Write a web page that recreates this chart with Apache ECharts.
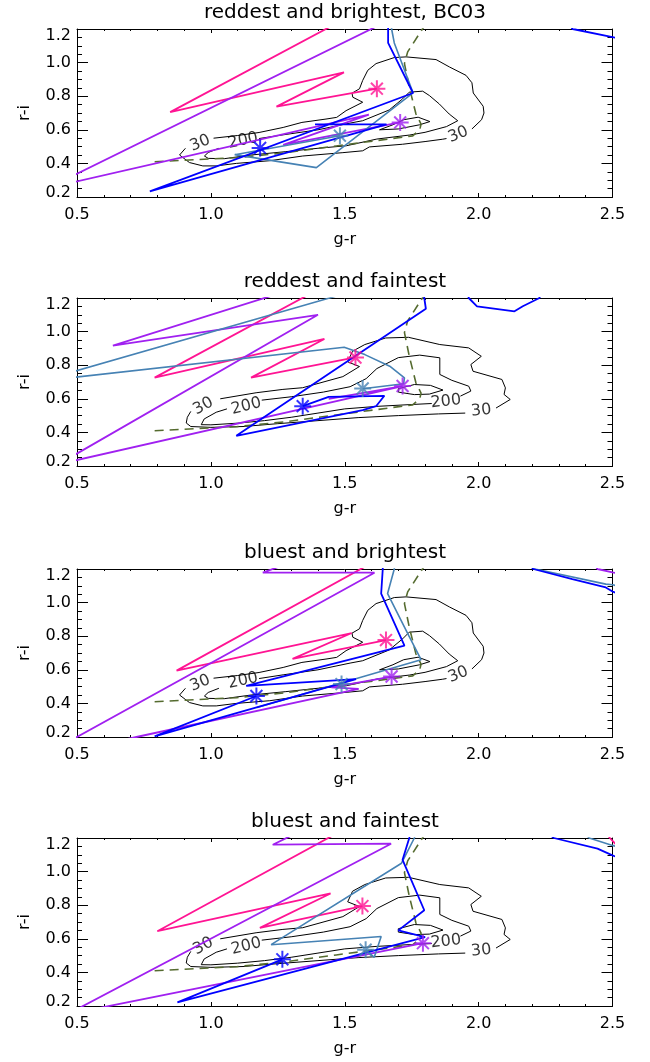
<!DOCTYPE html>
<html>
<head>
<meta charset="utf-8">
<script src="https://cdn.jsdelivr.net/npm/echarts@6/dist/echarts.min.js"></script>
<style>
  html, body { margin: 0; padding: 0; background: #fff; }
  #chart { width: 650px; height: 1062px; }
</style>
</head>
<body>
<div id="chart"></div>
<script>
// panel titles
const panelTitles = ['reddest and brightest, BC03', 'reddest and faintest', 'bluest and brightest', 'bluest and faintest'];

// dashed model locus (same in every panel)
const modelTrack = [[0.79,0.41],[1.095,0.434],[1.281,0.464],[1.468,0.504],[1.754,0.564],[1.78,0.60],[1.785,0.634],
    [1.766,0.694],[1.741,0.854],[1.723,0.994],[1.735,1.064],[1.79,1.2],[1.82,1.26]];

// density contours, bright sample (panels 1 and 3)
const brightC30 = [
    [[0.905,0.49],[0.883,0.45],[0.92,0.405],[0.97,0.385],[1.02,0.385],[1.095,0.40],[1.22,0.416],[1.343,0.444],[1.493,0.464],
     [1.567,0.475],[1.592,0.498],[1.716,0.514],[1.80,0.53],[1.866,0.544],[1.88,0.548]],
    [[1.975,0.605],[2.011,0.66],[2.02,0.70],[2.017,0.74],[1.98,0.819],[1.975,0.88],[1.953,0.924],[1.891,0.974],[1.841,1.018],
     [1.729,1.034],[1.685,1.03],[1.617,0.994],[1.586,0.954],[1.567,0.894],[1.555,0.844],[1.527,0.818],[1.53,0.794],[1.567,0.764],
     [1.505,0.714],[1.47,0.674],[1.43,0.664],[1.34,0.644],[1.27,0.614],[1.18,0.584],[1.10,0.566],[1.01,0.55]]
];
const brightC200 = [
    [[1.18,0.548],[1.27,0.57],[1.40,0.60],[1.52,0.64],[1.567,0.654],[1.666,0.718],[1.716,0.784],[1.741,0.824],[1.791,0.83],
     [1.816,0.804],[1.853,0.754],[1.89,0.694],[1.922,0.654],[1.88,0.619],[1.80,0.585],[1.743,0.569],[1.62,0.545],[1.506,0.505],
     [1.40,0.49],[1.28,0.47],[1.15,0.45],[1.05,0.428],[0.99,0.43],[0.976,0.444],[0.99,0.465],[1.03,0.49]]
];
const brightInner = [[[1.63,0.60],[1.68,0.63],[1.72,0.66],[1.774,0.675],[1.818,0.649],[1.78,0.63],[1.70,0.605],[1.63,0.60]]];
const brightLabels = [[0.96,0.52,'30'],[1.12,0.535,'200'],[1.924,0.571,'30']];

// density contours, faint sample (panels 2 and 4)
const faintC30 = [
    [[0.925,0.525],[0.912,0.49],[0.908,0.456],[0.925,0.435],[1.0,0.43],[1.12,0.435],[1.25,0.452],[1.40,0.47],[1.55,0.488],
     [1.70,0.50],[1.85,0.51],[1.95,0.515]],
    [[2.065,0.545],[2.118,0.596],[2.095,0.626],[2.10,0.665],[2.087,0.715],[1.979,0.764],[1.971,0.804],[2.01,0.853],[1.963,0.903],
     [1.855,0.923],[1.738,0.966],[1.653,0.962],[1.575,0.923],[1.529,0.883],[1.511,0.82],[1.555,0.792],[1.493,0.732],[1.343,0.666],
     [1.269,0.656],[1.169,0.636],[1.035,0.60]]
];
const faintC200 = [
    [[1.19,0.592],[1.30,0.612],[1.42,0.64],[1.52,0.672],[1.58,0.72],[1.62,0.78],[1.70,0.845],[1.78,0.86],[1.855,0.844],
     [1.855,0.745],[1.90,0.71],[1.963,0.675],[1.971,0.646],[1.932,0.616]],
    [[1.825,0.572],[1.75,0.566],[1.62,0.555],[1.50,0.54],[1.40,0.515],[1.30,0.49],[1.20,0.47],[1.10,0.455],[1.00,0.445],
     [0.964,0.446],[0.975,0.48],[1.02,0.52],[1.06,0.54]]
];
const faintInner = [[[1.70,0.66],[1.76,0.685],[1.82,0.68],[1.867,0.652],[1.816,0.628],[1.76,0.625],[1.70,0.64],[1.70,0.66]]];
const faintLabels = [[0.972,0.556,'30'],[1.132,0.556,'200'],[1.878,0.584,'200'],[2.01,0.53,'30']];

// model colour tracks, one per panel
const pinkTracks = [
    [[1.62,0.845],[1.245,0.738],[1.497,0.942],[0.848,0.705],[1.50,1.26]],
    [[1.54,0.846],[1.15,0.726],[1.424,0.956],[0.79,0.726],[1.40,1.25]],
    [[1.654,0.777],[1.305,0.665],[1.526,0.819],[0.872,0.595],[1.62,1.253]],
    [[1.566,0.795],[1.183,0.665],[1.447,0.87],[0.80,0.645],[1.49,1.245],[2.45,1.3],[2.49,1.2],[2.52,1.15]]
];
const purpleTracks = [
    [[1.707,0.644],[1.27,0.51],[1.59,0.69],[0.389,0.252],[1.65,1.24]],
    [[1.44,0.60],[1.716,0.676],[0.43,0.21],[1.40,1.10],[0.634,0.916],[1.30,1.25]],
    [[1.675,0.56],[1.45,0.495],[1.552,0.487],[0.722,0.2],[0.578,0.15],[0.443,0.15],[1.611,1.178],[1.194,1.178],
     [1.40,1.30],[2.40,1.30],[2.444,1.2],[2.5,1.18],[2.6,1.15]],
    [[1.792,0.574],[0.463,0.15],[1.673,1.166],[1.231,1.16],[1.36,1.26]]
];
const blueTracks = [
    [[1.389,0.632],[1.656,0.632],[0.772,0.233],[1.755,0.819],[1.662,1.117],[1.662,1.2],[1.66,1.3],[2.3,1.3],[2.351,1.2],
     [2.5,1.152],[2.6,1.12]],
    [[1.343,0.556],[1.44,0.612],[1.648,0.618],[1.617,0.556],[1.567,0.532],[1.095,0.38],[1.803,1.136],[1.797,1.2],[1.79,1.3],
     [1.95,1.3],[1.963,1.2],[1.994,1.15],[2.134,1.121],[2.165,1.151],[2.227,1.2],[2.25,1.3]],
    [[1.17,0.444],[0.79,0.204],[1.542,0.544],[1.132,0.504],[1.723,0.744],[1.636,1.054],[1.642,1.2],[1.64,1.3],[2.15,1.3],
     [2.204,1.2],[2.35,1.14],[2.475,1.09],[2.5,1.066],[2.6,1.0]],
    [[1.267,0.478],[0.875,0.222],[1.80,0.61],[1.70,0.65],[1.797,0.77],[1.716,1.07],[1.741,1.2],[1.75,1.3],[2.2,1.3],
     [2.281,1.2],[2.444,1.137],[2.5,1.097],[2.6,1.03]]
];
const steelTracks = [
    [[1.482,0.565],[1.089,0.452],[1.394,0.375],[1.755,0.82],[1.685,1.117],[1.675,1.2],[1.67,1.3]],
    [[1.567,0.66],[1.72,0.69],[1.723,0.725],[1.668,0.794],[1.575,0.863],[1.498,0.907],[0.365,0.706],[1.443,1.2],[1.55,1.25]],
    [[1.172,0.376],[1.785,0.66],[1.74,0.80],[1.66,1.054],[1.685,1.2],[1.69,1.3],[2.15,1.3],[2.211,1.2],[2.475,1.11],
     [2.5,1.106],[2.6,1.07]],
    [[1.578,0.535],[1.61,0.49],[1.636,0.614],[1.225,0.565],[1.712,1.05],[1.76,1.2],[1.77,1.3],[2.35,1.3],[2.413,1.2],
     [2.5,1.156],[2.6,1.11]]
];

// asterisks marking each model, per panel
const starsPink = [[1.62,0.845],[1.54,0.846],[1.654,0.777],[1.566,0.795]];
const starsPurple = [[1.707,0.644],[1.716,0.676],[1.675,0.56],[1.792,0.574]];
const starsBlue = [[1.184,0.492],[1.343,0.556],[1.17,0.444],[1.267,0.478]];
const starsSteel = [[1.482,0.565],[1.567,0.662],[1.488,0.515],[1.578,0.535]];

const FONT = 'DejaVu Sans';
const COL = { pink: '#ff1493', purple: '#a020f0', blue: '#0000ff', steel: '#4682b4', model: '#556b2f' };
const STAR = 'path://M0,-10L0,10M-10,0L10,0M-7,-7L7,7M-7,7L7,-7';
const gridTops = [29, 298, 569, 838];
const GRID_H = 168;

const chart = echarts.init(document.getElementById('chart'));

const grids = [], xAxes = [], yAxes = [], series = [], graphics = [];

function lineSeries(gi, pts, color, width, dash, z) {
    return {
        type: 'line', xAxisIndex: gi * 2, yAxisIndex: gi * 2, data: pts,
        symbol: 'none', showSymbol: false, clip: true, silent: true, z: z,
        lineStyle: { color: color, width: width, type: dash || 'solid' }
    };
}

function starSeries(gi, pt, color) {
    return {
        type: 'scatter', xAxisIndex: gi * 2, yAxisIndex: gi * 2, data: [pt],
        symbol: STAR, symbolSize: 17, silent: true, z: 20,
        itemStyle: { color: 'rgba(0,0,0,0)', borderColor: color, borderWidth: 2 }
    };
}

const labelAnglesBright = [22, 12, 22];
const labelAnglesFaint = [28, 14, 6, 6];

for (let i = 0; i < 4; i++) {
    const top = gridTops[i];
    grids.push({ left: 77, right: 37.5, top: top, height: GRID_H });

    const xBase = {
        gridIndex: i, type: 'value', min: 0.5, max: 2.5, interval: 0.5,
        axisLine: { show: true, onZero: false, lineStyle: { color: '#000', width: 1 } },
        axisTick: { show: true, inside: true, length: 4, lineStyle: { color: '#000' } },
        minorTick: { show: true, splitNumber: 5, length: 2, lineStyle: { color: '#000' } },
        splitLine: { show: false }
    };
    xAxes.push(Object.assign({}, xBase, {
        position: 'bottom',
        axisLabel: { color: '#000', fontSize: 16, fontFamily: FONT, margin: 10, formatter: v => v.toFixed(1) },
        name: 'g-r', nameLocation: 'middle', nameGap: 35,
        nameTextStyle: { color: '#000', fontSize: 16, fontFamily: FONT }
    }));
    xAxes.push(Object.assign({}, xBase, { position: 'top', axisLabel: { show: false } }));

    const yBase = {
        gridIndex: i, type: 'value', min: 0.2, max: 1.2, interval: 0.2,
        axisLine: { show: true, onZero: false, lineStyle: { color: '#000', width: 1 } },
        axisTick: { show: true, inside: true, length: 11, lineStyle: { color: '#000' } },
        minorTick: { show: true, splitNumber: 4, length: 5, lineStyle: { color: '#000' } },
        splitLine: { show: false }
    };
    yAxes.push(Object.assign({}, yBase, {
        position: 'left',
        axisLabel: {
            color: '#000', fontSize: 16, fontFamily: FONT, margin: 6,
            formatter: v => {
                const s = v.toFixed(1);
                if (Math.abs(v - 0.2) < 1e-6) return '{lo|' + s + '}';
                if (Math.abs(v - 1.2) < 1e-6) return '{hi|' + s + '}';
                return s;
            },
            rich: {
                lo: { fontSize: 16, fontFamily: FONT, color: '#000', padding: [0, 0, 9, 0] },
                hi: { fontSize: 16, fontFamily: FONT, color: '#000', padding: [14, 0, 0, 0] }
            }
        },
        name: 'r-i', nameLocation: 'middle', nameGap: 44, nameRotate: 90,
        nameTextStyle: { color: '#000', fontSize: 16, fontFamily: FONT }
    }));
    yAxes.push(Object.assign({}, yBase, { position: 'right', axisLabel: { show: false } }));

    graphics.push({
        type: 'text', x: 345, y: top - 16.5, silent: true,
        style: { text: panelTitles[i], fill: '#000', font: '20px "' + FONT + '"', textAlign: 'center', textVerticalAlign: 'middle' }
    });

    const bright = (i === 0 || i === 2);
    const c30 = bright ? brightC30 : faintC30;
    const c200 = bright ? brightC200 : faintC200;
    const inner = bright ? brightInner : faintInner;
    const labels = bright ? brightLabels : faintLabels;
    const angles = bright ? labelAnglesBright : labelAnglesFaint;

    c30.concat(c200, inner).forEach(seg => series.push(lineSeries(i, seg, '#000', 1, 'solid', 2)));
    labels.forEach((l, k) => series.push({
        type: 'scatter', xAxisIndex: i * 2, yAxisIndex: i * 2, data: [[l[0], l[1]]],
        symbolSize: 1, itemStyle: { color: 'rgba(0,0,0,0)' }, silent: true, z: 3,
        label: { show: true, position: 'inside', formatter: l[2], rotate: angles[k], color: '#000', fontSize: 16, fontFamily: FONT }
    }));

    series.push(lineSeries(i, modelTrack, COL.model, 1.6, [9, 6], 4));
    series.push(lineSeries(i, pinkTracks[i], COL.pink, 1.8, 'solid', 5));
    series.push(lineSeries(i, purpleTracks[i], COL.purple, 1.8, 'solid', 5));
    series.push(lineSeries(i, steelTracks[i], COL.steel, 1.6, 'solid', 5));
    series.push(lineSeries(i, blueTracks[i], COL.blue, 1.8, 'solid', 6));

    series.push(starSeries(i, starsPink[i], COL.pink));
    series.push(starSeries(i, starsPurple[i], COL.purple));
    series.push(starSeries(i, starsBlue[i], COL.blue));
    series.push(starSeries(i, starsSteel[i], COL.steel));
}

chart.setOption({
    animation: false,
    backgroundColor: '#fff',
    grid: grids,
    xAxis: xAxes,
    yAxis: yAxes,
    series: series,
    graphic: graphics
});
</script>
</body>
</html>
